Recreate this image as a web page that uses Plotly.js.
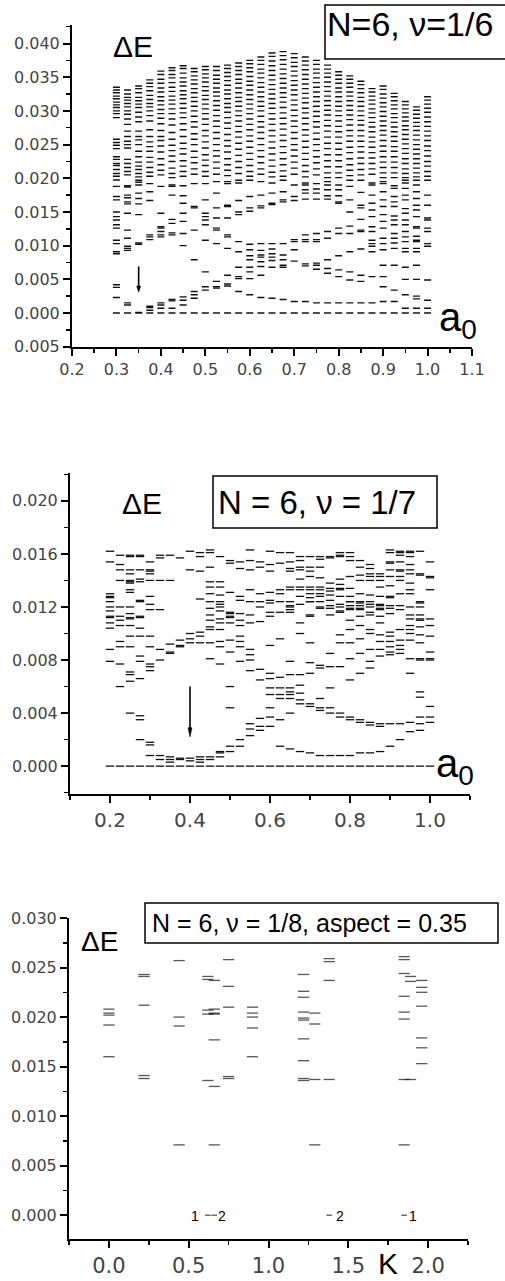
<!DOCTYPE html>
<html><head><meta charset="utf-8">
<script src="https://cdn.plot.ly/plotly-3.0.1.min.js"></script>
<style>html,body{margin:0;padding:0;background:#fff}#chart{width:505px;height:1281px}</style>
</head><body><div id="chart"></div>
<script>
// ---------- Panel 1: N=6, nu=1/6, Delta E vs a0 ----------
const p1Cols = [0.3,0.325,0.35,0.375,0.4,0.425,0.45,0.475,0.5,0.525,0.55,0.575,0.6,0.625,0.65,0.675,0.7,0.725,0.75,0.775,0.8,0.825,0.85,0.875,0.9,0.925,0.95,0.975,1.0];
const p1Levels = [
 [.0335,.0331,.0327,.0322,.0318,.0313,.0309,.0305,.0300,.0296,.0290,.0258,.0253,.0249,.0244,.0232,.0228,.0222,.0219,.0213,.0207,.0203,.01975,.0188,.0173,.0168,.0150,.0143,.0138,.0131,.0126,.0108,.0103,.0091,.0088,.0042,.0038,.0023,0],
 [.0331,.0325,.0320,.0316,.0311,.0306,.0300,.0295,.0288,.0280,.0270,.0262,.0255,.0250,.0245,.0228,.0222,.0216,.0210,.0205,.0189,.0187,.0175,.0171,.0165,.0162,.0148,.0123,.0111,.0099,.0096,.0093,.0015,.0012,0],
 [.0337,.0333,.0327,.0320,.0315,.0310,.0305,.0298,.0291,.0284,.0270,.0262,.0257,.0250,.0240,.0232,.0224,.0218,.0213,.0207,.0202,.0197,.0194,.0190,.0178,.0170,.0162,.0146,.0104,.0102,.0001,0],
 [.0346,.0341,.0336,.0330,.0323,.0317,.0311,.0306,.0300,.0293,.0285,.0272,.0262,.0254,.0247,.0240,.0231,.0224,.0216,.0209,.0203,.0192,.0180,.0167,.0116,.0113,.0109,.0010,.0008,.0004,0],
 [.0359,.0354,.0347,.0341,.0334,.0328,.0321,.0315,.0309,.0302,.0296,.0289,.0281,.0271,.0262,.0256,.0248,.0239,.0229,.0220,.0212,.0205,.0188,.0148,.0128,.0126,.0121,.0116,.0113,.0015,.0012,.0007,0],
 [.0364,.0360,.0354,.0349,.0342,.0335,.0329,.0322,.0316,.0310,.0303,.0296,.0288,.0279,.0268,.0258,.0249,.0241,.0233,.0225,.0215,.0207,.0201,.0190,.0188,.0175,.0139,.0133,.0119,.0116,.0020,.0018,.0007,0],
 [.0367,.0363,.0356,.0349,.0343,.0337,.0330,.0324,.0318,.0311,.0304,.0297,.0290,.0281,.0272,.0262,.0252,.0244,.0236,.0226,.0218,.0210,.0203,.0189,.0174,.0163,.0148,.0136,.0118,.0100,.0024,.0019,.0012,0],
 [.0363,.0358,.0352,.0346,.0340,.0333,.0327,.0320,.0314,.0307,.0300,.0292,.0284,.0276,.0266,.0258,.0250,.0240,.0231,.0223,.0214,.0206,.0192,.0158,.0156,.0123,.0079,.0032,.0027,.0022,0],
 [.0366,.0361,.0355,.0349,.0343,.0336,.0330,.0323,.0317,.0310,.0303,.0296,.0288,.0280,.0271,.0263,.0254,.0245,.0235,.0227,.0219,.0210,.0203,.0192,.0168,.0148,.0143,.0138,.0131,.0108,.0061,.0039,.0034,0],
 [.0366,.0360,.0353,.0347,.0341,.0334,.0328,.0322,.0315,.0308,.0301,.0293,.0285,.0277,.0268,.0259,.0250,.0241,.0233,.0224,.0215,.0206,.0195,.0178,.0156,.0141,.0126,.0123,.0103,.0047,.0039,.0037,0],
 [.0368,.0363,.0357,.0351,.0345,.0338,.0331,.0325,.0318,.0311,.0305,.0298,.0290,.0282,.0274,.0265,.0256,.0248,.0239,.0229,.0220,.0212,.0204,.0195,.0192,.0160,.0158,.0141,.0116,.0113,.0096,.0056,.0043,.0040,0],
 [.0371,.0366,.0360,.0354,.0347,.0341,.0334,.0327,.0320,.0314,.0307,.0300,.0293,.0285,.0277,.0269,.0261,.0252,.0243,.0234,.0225,.0216,.0207,.0197,.0193,.0167,.0150,.0146,.0106,.0091,.0068,.0054,.0051,.0032,0],
 [.0375,.0370,.0364,.0358,.0351,.0344,.0338,.0331,.0324,.0317,.0310,.0303,.0296,.0288,.0280,.0272,.0263,.0255,.0246,.0237,.0228,.0219,.0210,.0203,.0197,.0173,.0156,.0151,.0102,.0094,.0085,.0079,.0068,.0061,.0051,.0027,0],
 [.0380,.0375,.0369,.0362,.0356,.0349,.0342,.0335,.0328,.0321,.0314,.0307,.0300,.0292,.0284,.0276,.0268,.0259,.0250,.0241,.0232,.0223,.0214,.0206,.0195,.0175,.0159,.0156,.0103,.0093,.0086,.0083,.0076,.0069,.0056,.0023,0],
 [.0386,.0381,.0374,.0367,.0360,.0353,.0346,.0339,.0332,.0325,.0318,.0311,.0304,.0296,.0288,.0280,.0271,.0263,.0254,.0245,.0236,.0227,.0218,.0209,.0202,.0193,.0178,.0163,.0161,.0103,.0095,.0088,.0083,.0078,.0068,.0022,0],
 [.0388,.0382,.0376,.0369,.0362,.0355,.0348,.0341,.0334,.0327,.0320,.0313,.0305,.0297,.0289,.0281,.0273,.0264,.0256,.0247,.0238,.0229,.0220,.0211,.0203,.0197,.0180,.0168,.0165,.0103,.0086,.0079,.0071,.0068,.0020,0],
 [.0385,.0379,.0372,.0366,.0359,.0352,.0345,.0338,.0331,.0324,.0316,.0309,.0301,.0293,.0285,.0277,.0268,.0259,.0250,.0242,.0233,.0224,.0215,.0206,.0190,.0173,.0167,.0109,.0106,.0094,.0077,.0017,0],
 [.0380,.0374,.0368,.0361,.0354,.0347,.0340,.0333,.0326,.0319,.0312,.0304,.0297,.0289,.0281,.0272,.0264,.0255,.0246,.0237,.0228,.0219,.0210,.0202,.0193,.0190,.0183,.0178,.0169,.0116,.0109,.0106,.0073,.0070,.0017,0],
 [.0375,.0369,.0362,.0356,.0349,.0342,.0335,.0328,.0321,.0314,.0307,.0299,.0292,.0284,.0276,.0267,.0258,.0250,.0241,.0232,.0223,.0214,.0205,.0192,.0184,.0178,.0169,.0118,.0109,.0106,.0074,.0071,.0065,.0015,0],
 [.0368,.0362,.0356,.0350,.0343,.0336,.0329,.0322,.0315,.0308,.0301,.0294,.0286,.0278,.0270,.0261,.0252,.0244,.0235,.0226,.0217,.0208,.0201,.0195,.0190,.0183,.0174,.0169,.0121,.0111,.0079,.0066,.0059,.0015,0],
 [.0358,.0353,.0347,.0341,.0334,.0328,.0321,.0314,.0307,.0300,.0293,.0285,.0277,.0269,.0261,.0252,.0243,.0235,.0226,.0217,.0208,.0201,.0190,.0183,.0174,.0165,.0163,.0126,.0118,.0085,.0064,.0054,.0015,0],
 [.0352,.0347,.0341,.0335,.0328,.0322,.0315,.0308,.0301,.0294,.0287,.0279,.0271,.0263,.0255,.0246,.0238,.0229,.0220,.0212,.0204,.0197,.0188,.0168,.0150,.0129,.0118,.0091,.0061,.0049,.0015,0],
 [.0344,.0339,.0333,.0327,.0320,.0314,.0307,.0300,.0293,.0286,.0279,.0271,.0263,.0255,.0247,.0239,.0230,.0222,.0213,.0205,.0197,.0179,.0160,.0156,.0139,.0123,.0121,.0095,.0056,.0047,.0015,0],
 [.0333,.0328,.0322,.0316,.0310,.0303,.0297,.0290,.0283,.0276,.0269,.0261,.0254,.0246,.0238,.0230,.0222,.0214,.0206,.0193,.0190,.0175,.0163,.0153,.0143,.0128,.0121,.0108,.0103,.0099,.0091,.0054,.0015,0],
 [.0337,.0332,.0325,.0319,.0312,.0306,.0299,.0292,.0285,.0278,.0271,.0264,.0256,.0248,.0240,.0232,.0224,.0216,.0208,.0201,.0195,.0192,.0180,.0168,.0158,.0146,.0136,.0126,.0111,.0103,.0094,.0071,.0054,.0039,.0017,0],
 [.0326,.0321,.0315,.0309,.0303,.0296,.0290,.0283,.0276,.0269,.0262,.0255,.0247,.0240,.0232,.0224,.0216,.0208,.0201,.0189,.0185,.0173,.0165,.0158,.0144,.0138,.0131,.0118,.0111,.0104,.0096,.0071,.0034,.0017,0],
 [.0314,.0309,.0303,.0297,.0291,.0285,.0278,.0272,.0265,.0258,.0251,.0244,.0237,.0229,.0222,.0214,.0207,.0201,.0197,.0193,.0185,.0175,.0168,.0155,.0148,.0138,.0131,.0121,.0113,.0106,.0096,.0091,.0068,.0050,.0027,.0007,0],
 [.0306,.0301,.0295,.0289,.0283,.0277,.0271,.0264,.0257,.0250,.0243,.0236,.0229,.0222,.0215,.0208,.0202,.0197,.0190,.0180,.0170,.0160,.0153,.0143,.0128,.0126,.0114,.0108,.0106,.0096,.0091,.0071,.0050,.0025,.0021,.0007,0],
 [.0321,.0316,.0310,.0304,.0298,.0291,.0284,.0277,.0270,.0263,.0256,.0248,.0241,.0233,.0225,.0218,.0210,.0203,.0197,.0175,.0160,.0141,.0138,.0126,.0121,.0103,.0099,.0049,.0019,.0007,0]
];
const p1YTickVals = [-0.005,0,0.005,0.010,0.015,0.020,0.025,0.030,0.035,0.040];
const p1YTickText = ['0.005','0.000','0.005','0.010','0.015','0.020','0.025','0.030','0.035','0.040'];
const p1Arrow = {x:0.35, from:0.0069, to:0.0031};

// ---------- Panel 2: N=6, nu=1/7 ----------
const p2Cols = [0.2,0.225,0.25,0.275,0.3,0.325,0.35,0.375,0.4,0.425,0.45,0.475,0.5,0.525,0.55,0.575,0.6,0.625,0.65,0.675,0.7,0.725,0.75,0.775,0.8,0.825,0.85,0.875,0.9,0.925,0.95,0.975,1.0];
const p2Levels = [
 [.0162,.0154,.0130,.0128,.0127,.0124,.0120,.0117,.0113,.0112,.0108,.0104,.0088,.0079,0],
 [.0159,.0152,.0148,.0140,.0120,.0113,.0110,.0106,.0094,.0090,.0077,.0060,0],
 [.0159,.0158,.0148,.0145,.0140,.0139,.0138,.0133,.0131,.0120,.0115,.0112,.0111,.0106,.0098,.0090,.0071,.0069,.0064,.0040,0],
 [.0159,.0158,.0148,.0141,.0139,.0125,.0124,.0113,.0112,.0104,.0098,.0083,.0079,.0066,.0038,.0035,.0020,0],
 [.0154,.0148,.0147,.0145,.0140,.0128,.0122,.0118,.0098,.0090,.0077,.0075,.0072,.0018,.0016,.0008,0],
 [.0159,.0157,.0140,.0118,.0088,.0080,.0008,.0005,0],
 [.0159,.0140,.0092,.0086,.0085,.0007,.0005,.0003,0],
 [.0157,.0095,.0091,.0090,.0006,.0005,0],
 [.0162,.0148,.0100,.0096,.0093,.0006,.0004,0],
 [.0161,.0158,.0147,.0126,.0101,.0098,.0093,.0007,.0005,.0003,0],
 [.0163,.0161,.0150,.0139,.0135,.0130,.0124,.0119,.0114,.0110,.0105,.0103,.0093,.0081,.0007,.0005,0],
 [.0158,.0139,.0135,.0129,.0124,.0120,.0122,.0117,.0111,.0108,.0103,.0094,.0090,.0077,.0011,.0010,.0007,0],
 [.0155,.0153,.0131,.0116,.0112,.0115,.0113,.0108,.0095,.0086,.0060,.0044,.0015,.0011,0],
 [.0154,.0149,.0128,.0125,.0115,.0110,.0106,.0098,.0094,.0090,.0079,.0020,.0015,0],
 [.0163,.0155,.0148,.0133,.0124,.0114,.0108,.0088,.0084,.0080,.0072,.0032,.0028,.0023,0],
 [.0154,.0150,.0130,.0124,.0120,.0109,.0073,.0065,.0036,.0030,.0027,0],
 [.0162,.0152,.0147,.0131,.0125,.0116,.0123,.0113,.0091,.0070,.0066,.0059,.0054,.0044,.0037,.0030,0],
 [.0161,.0153,.0133,.0130,.0124,.0116,.0096,.0067,.0059,.0054,.0051,.0035,.0015,0],
 [.0161,.0154,.0149,.0147,.0135,.0133,.0124,.0121,.0116,.0120,.0118,.0079,.0069,.0059,.0056,.0054,.0051,.0040,.0013,0],
 [.0158,.0155,.0150,.0148,.0141,.0135,.0133,.0128,.0122,.0108,.0100,.0069,.0061,.0055,.0050,.0047,.0011,0],
 [.0158,.0150,.0147,.0143,.0135,.0133,.0130,.0127,.0124,.0113,.0124,.0114,.0093,.0078,.0070,.0047,.0045,.0010,0],
 [.0158,.0156,.0150,.0142,.0135,.0133,.0130,.0128,.0124,.0120,.0119,.0076,.0074,.0051,.0044,.0042,.0008,0],
 [.0158,.0157,.0138,.0134,.0132,.0129,.0125,.0121,.0119,.0114,.0085,.0075,.0059,.0044,.0040,.0008,0],
 [.0161,.0159,.0158,.0141,.0137,.0134,.0133,.0128,.0120,.0116,.0122,.0117,.0099,.0093,.0075,.0040,.0037,.0008,0],
 [.0161,.0158,.0155,.0143,.0134,.0128,.0124,.0121,.0118,.0124,.0119,.0110,.0103,.0093,.0081,.0065,.0037,.0035,.0008,0],
 [.0155,.0150,.0144,.0140,.0130,.0124,.0121,.0119,.0113,.0123,.0118,.0106,.0096,.0085,.0070,.0035,.0033,.0010,0],
 [.0152,.0149,.0145,.0143,.0140,.0129,.0124,.0120,.0116,.0122,.0114,.0103,.0100,.0088,.0079,.0074,.0033,.0031,.0010,0],
 [.0145,.0143,.0140,.0135,.0128,.0121,.0119,.0113,.0122,.0118,.0108,.0099,.0094,.0088,.0083,.0032,.0030,.0011,0],
 [.0163,.0161,.0154,.0153,.0148,.0143,.0136,.0128,.0127,.0119,.0121,.0115,.0101,.0098,.0094,.0090,.0086,.0084,.0032,.0015,0],
 [.0162,.0161,.0159,.0154,.0148,.0147,.0143,.0140,.0130,.0121,.0118,.0103,.0095,.0091,.0088,.0085,.0032,.0020,0],
 [.0162,.0161,.0158,.0152,.0148,.0145,.0138,.0133,.0130,.0120,.0114,.0111,.0106,.0103,.0100,.0095,.0081,.0070,.0033,.0026,0],
 [.0162,.0145,.0144,.0124,.0114,.0111,.0123,.0120,.0110,.0105,.0099,.0093,.0081,.0080,.0056,.0052,.0037,.0032,.0027,0],
 [.0154,.0143,.0142,.0133,.0111,.0106,.0098,.0086,.0081,.0080,.0045,.0037,.0033,0]
];
const p2Arrow = {x:0.4, from:0.0060, to:0.0022};

// ---------- Panel 3: N=6, nu=1/8, aspect=0.35, Delta E vs K ----------
const p3K = [0.0,0.22,0.44,0.62,0.66,0.75,0.90,1.22,1.29,1.38,1.85,1.89,1.96];
const p3Levels = [
 [.0208,.0204,.0202,.0192,.0160],
 [.0243,.0241,.0212,.0141,.0138],
 [.0257,.0200,.0191,.0071],
 [.0241,.0238,.0207,.0203,.0136,0],
 [.0237,.0208,.0204,.0203,.0177,.0130,.0071,0],
 [.0258,.0231,.0210,.0140,.0138],
 [.0210,.0204,.0200,.0189,.0160],
 [.0243,.0226,.0220,.0205,.0199,.0197,.0178,.0156,.0138,.0136],
 [.0204,.0193,.0137,.0071],
 [.0259,.0256,.0237,.0137,0],
 [.0261,.0258,.0244,.0221,.0205,.0198,.0137,.0071,0],
 [.0241,.0236,.0137],
 [.0237,.0230,.0225,.0211,.0179,.0169,.0153]
];
const p3Labels = ['1','2','2','1'];
const p3LabelK = [0.54,0.71,1.445,1.905];

// ---------- build traces ----------
function flat(cols, levels){
  const x=[], y=[];
  cols.forEach((c,i)=>levels[i].forEach(v=>{x.push(c); y.push(v);}));
  return {x,y};
}
const d1 = flat(p1Cols,p1Levels), d2 = flat(p2Cols,p2Levels), d3 = flat(p3K,p3Levels);
const mk = (s,w)=>({symbol:'line-ew', size:s, color:'#111', line:{width:w, color:'#111'}});
const m3 = mk(8,1.3); m3.size = d3.y.map(v=>v===0?4:8);
const traces = [
 {type:'scatter', mode:'markers', x:d1.x, y:d1.y, xaxis:'x', yaxis:'y', marker:mk(5,1.4), hoverinfo:'skip'},
 {type:'scatter', mode:'markers', x:d2.x, y:d2.y, xaxis:'x2', yaxis:'y2', marker:mk(6,1.3), hoverinfo:'skip'},
 {type:'scatter', mode:'markers', x:d3.x, y:d3.y, xaxis:'x3', yaxis:'y3', marker:m3, hoverinfo:'skip'}
];

// ---------- layout ----------
const W=505, H=1281;
const fx = v=>v/W, fy = v=>1-v/H;
const tf = s=>({family:'DejaVu Sans, Verdana, sans-serif', size:s, color:'#444'});
function ax(o){
  return Object.assign({showline:true, linecolor:'#000', linewidth:2, ticks:'outside', ticklen:7, tickwidth:2,
    tickcolor:'#000', showgrid:false, zeroline:false, fixedrange:true}, o);
}
const minor = d=>({ticks:'outside', ticklen:4, tickwidth:1.5, tickcolor:'#000', dtick:d, tick0:0, showgrid:false});
const lab = 'Liberation Sans, Arial, sans-serif';
function ann(x,y,text,size,extra){return Object.assign({xref:'paper',yref:'paper',x:fx(x),y:fy(y),text:text,showarrow:false,
  xanchor:'center',yanchor:'middle',font:{family:lab,size:size,color:'#000'}},extra||{});}
function arrowShapes(a, xr, yr, hw, hh){
  return [
    {type:'line', xref:xr, yref:yr, x0:a.x, x1:a.x, y0:a.from, y1:a.to+hh*0.6, line:{color:'#000', width:1.6}},
    {type:'path', xref:xr, yref:yr, path:`M${a.x-hw},${a.to+hh} L${a.x+hw},${a.to+hh} L${a.x},${a.to} Z`, fillcolor:'#000', line:{color:'#000', width:0.5}}
  ];
}

const layout = {
  width:W, height:H, margin:{l:0,r:0,t:0,b:0}, paper_bgcolor:'#fff', plot_bgcolor:'rgba(0,0,0,0)', showlegend:false,
  xaxis: ax({domain:[fx(72),fx(472)], range:[0.2,1.1], anchor:'y', tickmode:'linear', tick0:0.2, dtick:0.1, tickformat:'.1f', tickfont:tf(16), minor:minor(0.05)}),
  yaxis: ax({domain:[fy(346.7),fy(25)], range:[-0.005,0.04275], anchor:'x', tickmode:'array', tickvals:p1YTickVals, ticktext:p1YTickText, tickfont:tf(16), minor:minor(0.0025)}),
  xaxis2: ax({domain:[fx(70),fx(470)], range:[0.1,1.1], anchor:'y2', tickmode:'linear', tick0:0.2, dtick:0.2, tickformat:'.1f', tickfont:tf(20), minor:minor(0.1)}),
  yaxis2: ax({domain:[fy(794),fy(473)], range:[-0.0021,0.0221], anchor:'x2', tickmode:'linear', tick0:0, dtick:0.004, tickformat:'.3f', tickfont:tf(16), minor:minor(0.002)}),
  xaxis3: ax({domain:[fx(69),fx(468)], range:[-0.25,2.25], anchor:'y3', tickmode:'linear', tick0:0, dtick:0.5, tickformat:'.1f', tickfont:tf(21), minor:minor(0.25)}),
  yaxis3: ax({domain:[fy(1239),fy(918)], range:[-0.0024,0.030], anchor:'x3', tickmode:'linear', tick0:0, dtick:0.005, tickformat:'.3f', tickfont:tf(16), minor:minor(0.0025)}),
  shapes:[
    {type:'rect', xref:'paper', yref:'paper', x0:fx(325), x1:fx(507), y0:fy(59), y1:fy(5), line:{color:'#000', width:1.5}},
    {type:'rect', xref:'paper', yref:'paper', x0:fx(213), x1:fx(437), y0:fy(528), y1:fy(476), line:{color:'#000', width:1.5}},
    {type:'rect', xref:'paper', yref:'paper', x0:fx(145), x1:fx(498), y0:fy(943), y1:fy(903), line:{color:'#000', width:1.5}}
  ].concat(arrowShapes(p1Arrow,'x','y',0.0045,0.0009), arrowShapes(p2Arrow,'x2','y2',0.005,0.0007)),
  annotations:[
    ann(410,24,'N=6, ν=1/6',34),
    ann(133,46,'ΔE',30),
    ann(458,320,'a<sub>0</sub>',40),
    ann(317,502,'N = 6, ν = 1/7',33),
    ann(142,503,'ΔE',30),
    ann(455,766,'a<sub>0</sub>',40),
    ann(309,923,'N = 6, ν = 1/8, aspect = 0.35',25),
    ann(99,941,'ΔE',28),
    ann(388,1263,'K',30)
  ].concat(p3Labels.map((t,i)=>({xref:'x3', yref:'y3', x:p3LabelK[i], y:-0.0001, text:t, showarrow:false, xanchor:'center', yanchor:'middle', font:{family:lab, size:14, color:'#000'}})))
};
Plotly.newPlot('chart', traces, layout, {staticPlot:true, displayModeBar:false});
</script>
</body></html>
